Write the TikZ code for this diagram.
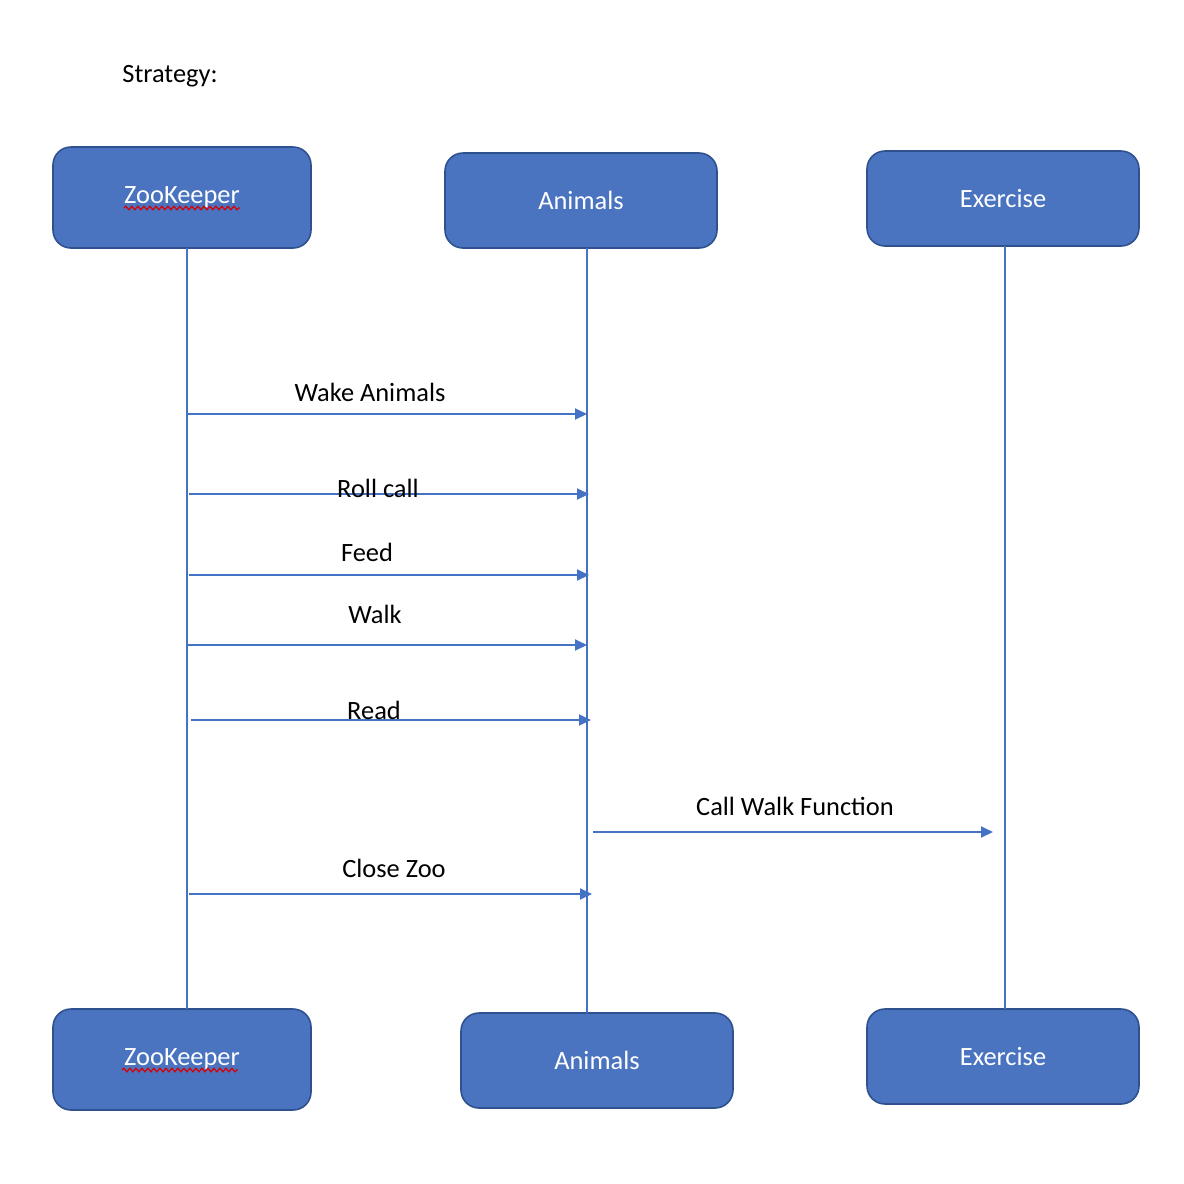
\documentclass[tikz,border=0pt]{standalone}
\usepackage{fontspec}
\setmainfont{Carlito}
\usetikzlibrary{arrows.meta,decorations.pathmorphing}
\definecolor{boxfill}{HTML}{4A74C0}
\definecolor{boxline}{HTML}{2F528F}
\definecolor{lineblue}{HTML}{4472C4}
\tikzset{
  actor/.style={draw=boxline, fill=boxfill, line width=0.8pt, rounded corners=9pt,
    text=white, font=\fontsize{13.2}{15}\selectfont, inner sep=0pt},
  lifeline/.style={draw=lineblue, line width=0.75pt},
  msg/.style={draw=lineblue, line width=0.95pt, -{Triangle[length=6pt,width=5.5pt]}},
  msglabel/.style={font=\fontsize{13.2}{15}\selectfont, inner sep=0pt},
  spell/.style={draw=red!85!black, line width=0.6pt, decorate,
    decoration={snake, amplitude=0.9pt, segment length=3pt}}
}
\begin{document}
\begin{tikzpicture}[x=0.5pt,y=-0.5pt]
\useasboundingbox (0,0) rectangle (1184,1184);
\node[msglabel, anchor=west] (title) at (122,76) {Strategy:};
% top boxes
\node[actor, minimum width=129pt, minimum height=50.5pt] (zk1) at (182,197.5) {ZooKeeper};
\node[actor, minimum width=136pt, minimum height=47.5pt] (an1) at (581,200.5) {Animals};
\node[actor, minimum width=136pt, minimum height=47.5pt] (ex1) at (1003,198.5) {Exercise};
% bottom boxes
\node[actor, minimum width=129pt, minimum height=50.5pt] (zk2) at (182,1059.5) {ZooKeeper};
\node[actor, minimum width=136pt, minimum height=47.5pt] (an2) at (597,1060.5) {Animals};
\node[actor, minimum width=136pt, minimum height=47.5pt] (ex2) at (1003,1056.5) {Exercise};
% spell-check underlines
\coordinate (s1a) at (124,208); \coordinate (s1b) at (240,208);
\coordinate (s2a) at (122,1070); \coordinate (s2b) at (238,1070);
\draw[spell] (s1a) -- (s1b);
\draw[spell] (s2a) -- (s2b);
% lifelines
\coordinate (zt) at (187,248); \coordinate (zb) at (187,1009);
\coordinate (at) at (587,248); \coordinate (ab) at (587,1013);
\coordinate (et) at (1005,246); \coordinate (eb) at (1005,1009);
\draw[lifeline] (zt) -- (zb);
\draw[lifeline] (at) -- (ab);
\draw[lifeline] (et) -- (eb);
% messages
\coordinate (m1a) at (187,414); \coordinate (m1b) at (587,414);
\coordinate (m2a) at (189,494); \coordinate (m2b) at (589,494);
\coordinate (m3a) at (189,575); \coordinate (m3b) at (589,575);
\coordinate (m4a) at (187,645); \coordinate (m4b) at (587,645);
\coordinate (m5a) at (191,720); \coordinate (m5b) at (591,720);
\coordinate (m6a) at (593,832); \coordinate (m6b) at (993,832);
\coordinate (m7a) at (189,894); \coordinate (m7b) at (592,894);
\draw[msg] (m1a) -- (m1b);
\draw[msg] (m2a) -- (m2b);
\draw[msg] (m3a) -- (m3b);
\draw[msg] (m4a) -- (m4b);
\draw[msg] (m5a) -- (m5b);
\draw[msg] (m6a) -- (m6b);
\draw[msg] (m7a) -- (m7b);
\node[msglabel] (l1) at (370,392) {Wake Animals};
\node[msglabel] (l2) at (378,488) {Roll call};
\node[msglabel] (l3) at (367,552) {Feed};
\node[msglabel] (l4) at (375,614) {Walk};
\node[msglabel] (l5) at (374,710) {Read};
\node[msglabel] (l6) at (795,806) {Call Walk Function};
\node[msglabel] (l7) at (394,868) {Close Zoo};
\end{tikzpicture}
\end{document}
